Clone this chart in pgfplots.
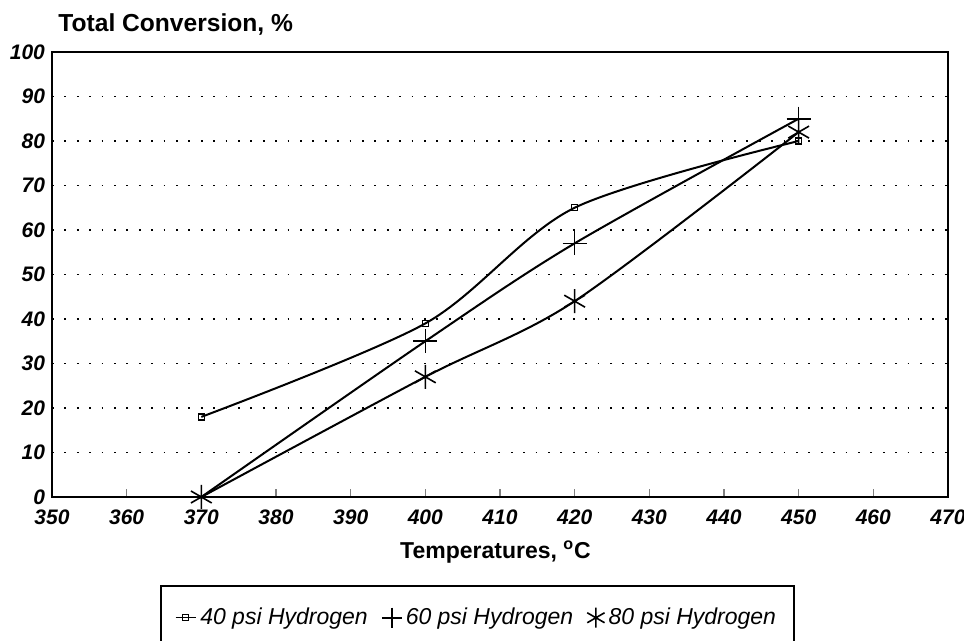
\documentclass[border=0pt]{standalone}
\usepackage{pgfplots}
\pgfplotsset{compat=1.18}
\usepackage{fontspec}
\setmainfont{Liberation Sans}

\begin{document}
\begin{tikzpicture}
\begin{axis}[
  scale only axis,
  width=448pt, height=222.5pt,
  clip mode=individual,
  xmin=350, xmax=470, ymin=0, ymax=100,
  xtick={350,360,...,470},
  ytick={0,10,...,100},
  tick align=inside,
  xtick pos=bottom, ytick pos=left,
  major tick length=4pt,
  ytick style={draw=none},
  xtick style={line width=0.8pt},
  ymajorgrids,
  major grid style={black, line width=0.9pt, dash pattern=on 0.9pt off 5.3pt},
  axis line style={line width=1pt},
  tick label style={font=\fontsize{10.5}{12}\selectfont\bfseries\itshape},
  xticklabel style={yshift=-3pt},
  /pgf/number format/assume math mode=true,
  xlabel={Temperatures, \textsuperscript{o}C},
  xlabel style={font=\fontsize{11.5}{13}\selectfont\bfseries,
    at={(axis description cs:0.495,0)}, anchor=center, yshift=-27.5pt},
  legend columns=3,
  legend style={at={(axis description cs:0.1205,-0.1978)}, anchor=north west,
    draw=black, line width=0.9pt, inner xsep=7pt, inner ysep=9pt,
    font=\fontsize{11.5}{13}\selectfont\itshape,
    /tikz/every even column/.append style={column sep=5pt}},
  every axis plot/.append style={black, line width=1pt},
]

% 40 psi
\addplot[smooth, mark=square, mark size=1.5pt, mark options={solid, fill=white, line width=0.7pt},
  legend image code/.code={\draw[line width=0.7pt, mark repeat=2, mark phase=2] plot coordinates {(0pt,0pt) (5pt,0pt) (10pt,0pt)};}]
  coordinates {(370,18) (400,39) (420,65) (450,80)};
\addlegendentry{40 psi Hydrogen}

% 60 psi
\addplot[smooth, mark=+, mark size=6pt, mark options={line width=0.8pt},
  legend image code/.code={\draw[mark size=5pt] plot[only marks] coordinates {(5pt,0pt)};}]
  coordinates {(370,0) (400,35) (420,57) (450,85)};
\addlegendentry{60 psi Hydrogen}

% 80 psi
\addplot[smooth, mark=asterisk, mark size=6pt, mark options={line width=0.8pt},
  legend image code/.code={\draw[mark size=5pt] plot[only marks] coordinates {(5pt,0pt)};}]
  coordinates {(370,0) (400,27) (420,44) (450,82)};
\addlegendentry{80 psi Hydrogen}

\node[anchor=base west, inner sep=0pt, font=\fontsize{12.3}{14}\selectfont\bfseries]
  at ([xshift=3pt, yshift=10pt]rel axis cs:0,1) {Total Conversion, \%};

\coordinate (bb1) at ([xshift=-26pt, yshift=-72pt]rel axis cs:0,0);
\coordinate (bb2) at ([xshift=8pt, yshift=26pt]rel axis cs:1,1);
\end{axis}
\pgfresetboundingbox
\path (bb1) rectangle (bb2);
\end{tikzpicture}
\end{document}
